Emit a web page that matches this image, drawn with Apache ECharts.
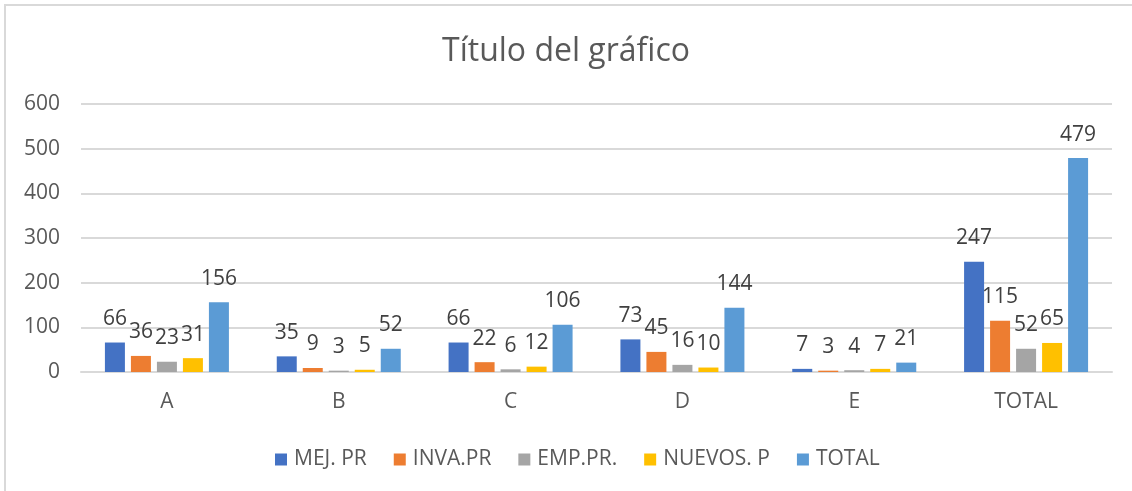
<!DOCTYPE html>
<html>
<head>
<meta charset="utf-8">
<script src="https://cdn.jsdelivr.net/npm/echarts@6/dist/echarts.min.js"></script>
<style>
    html, body { margin: 0; padding: 0; background: #fff; }
    #frame {
        position: absolute; left: 4px; top: 4px; width: 1128px; height: 487px;
        border-left: 2px solid #d9d9d9; border-top: 2px solid #d9d9d9;
    }
    #chart { position: absolute; left: 0; top: 0; width: 1132px; height: 491px; }
</style>
</head>
<body>
<div id="frame"></div>
<div id="chart"></div>
<script>
// categorias y series
var categories = ['A', 'B', 'C', 'D', 'E', 'TOTAL'];
var seriesNames = ['MEJ. PR', 'INVA.PR', 'EMP.PR.', 'NUEVOS. P', 'TOTAL'];
var mejPr = [66, 35, 66, 73, 7, 247];
var invaPr = [36, 9, 22, 45, 3, 115];
var empPr = [23, 3, 6, 16, 4, 52];
var nuevosP = [31, 5, 12, 10, 7, 65];
var total = [156, 52, 106, 144, 21, 479];
var yTicks = [0, 100, 200, 300, 400, 500, 600];

var colors = ['#4472c4', '#ed7d31', '#a5a5a5', '#ffc000', '#5b9bd5'];
var font = '"Open Sans", "Noto Sans", sans-serif';

var myChart = echarts.init(document.getElementById('chart'));

var makeSeries = function (name, values, i) {
    return {
        name: name,
        type: 'bar',
        barWidth: 20,
        barGap: '30%',
        itemStyle: { color: colors[i] },
        label: {
            show: true,
            position: 'top',
            distance: 13,
            color: '#404040',
            fontSize: 21,
            fontFamily: font
        },
        data: values
    };
};

var option = {
    backgroundColor: 'transparent',
    animation: false,
    title: {
        text: 'Título del gráfico',
        left: 'center',
        top: 31,
        textStyle: {
            color: '#595959',
            fontSize: 32,
            fontWeight: 'normal',
            fontFamily: font
        }
    },
    legend: {
        top: 444,
        left: 270,
        icon: 'rect',
        itemWidth: 12,
        itemHeight: 12,
        itemGap: 27,
        textStyle: { color: '#595959', fontSize: 21, fontFamily: font, padding: [0, 0, 0, 2] },
        data: seriesNames
    },
    grid: {
        left: 81,
        right: 20,
        top: 104,
        bottom: 119
    },
    xAxis: {
        type: 'category',
        data: categories,
        axisLine: { lineStyle: { color: '#d9d9d9', width: 2 } },
        axisTick: { show: false },
        axisLabel: { color: '#595959', fontSize: 21, fontFamily: font, margin: 20 }
    },
    yAxis: {
        type: 'value',
        min: yTicks[0],
        max: yTicks[yTicks.length - 1],
        interval: 100,
        axisLine: { show: false },
        axisTick: { show: false },
        axisLabel: { color: '#595959', fontSize: 21, fontFamily: font, margin: 21 },
        splitLine: { lineStyle: { color: '#d9d9d9', width: 2 } }
    },
    series: [
        makeSeries(seriesNames[0], mejPr, 0),
        makeSeries(seriesNames[1], invaPr, 1),
        makeSeries(seriesNames[2], empPr, 2),
        makeSeries(seriesNames[3], nuevosP, 3),
        makeSeries(seriesNames[4], total, 4)
    ]
};

myChart.setOption(option);
</script>
</body>
</html>
